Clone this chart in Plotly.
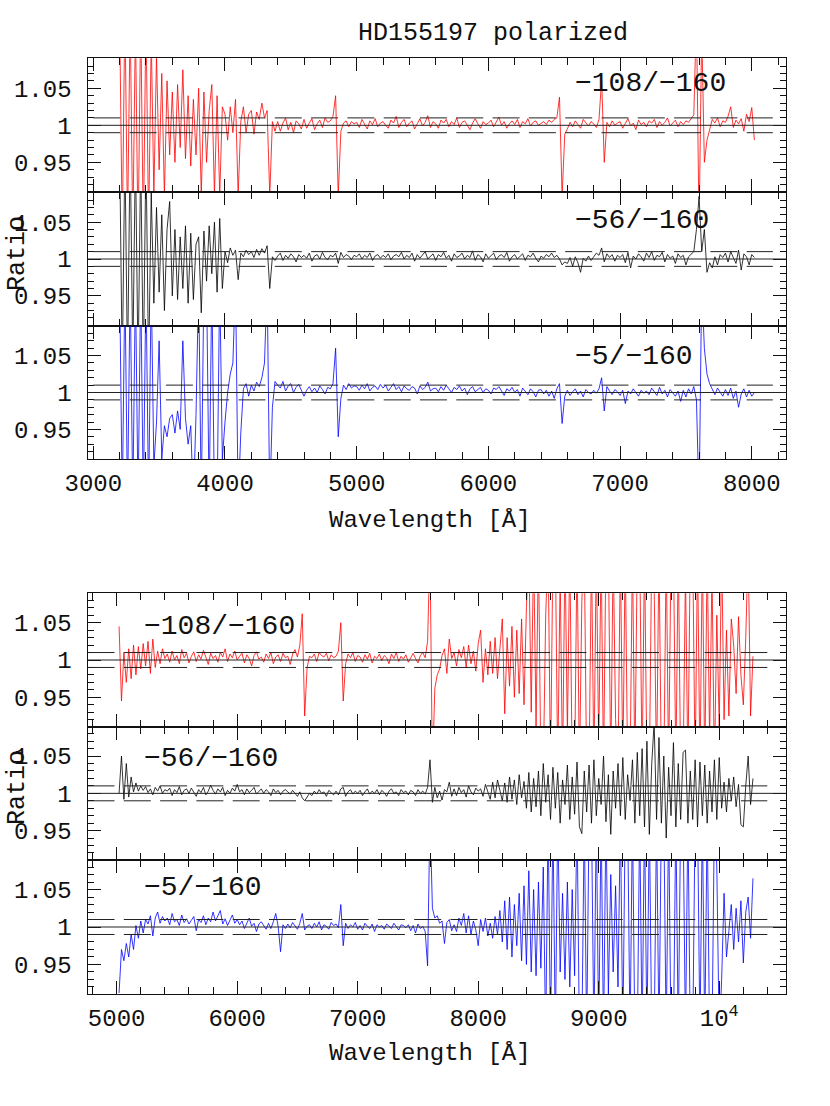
import plotly.graph_objects as go

# wavelength grids [Å]
wave_top = [
    3200, 3220, 3240, 3260, 3280, 3300, 3320, 3340, 3360, 3380,
    3400, 3420, 3440, 3460, 3480, 3500, 3520, 3540, 3560, 3580,
    3600, 3620, 3640, 3660, 3680, 3700, 3720, 3740, 3760, 3780,
    3800, 3820, 3840, 3860, 3880, 3900, 3920, 3940, 3960, 3980,
    4000, 4020, 4040, 4060, 4080, 4100, 4120, 4140, 4160, 4180,
    4200, 4220, 4240, 4260, 4280, 4300, 4320, 4340, 4360, 4380,
    4400, 4420, 4440, 4460, 4480, 4500, 4520, 4540, 4560, 4580,
    4600, 4620, 4640, 4660, 4680, 4700, 4720, 4740, 4760, 4780,
    4800, 4820, 4840, 4860, 4880, 4900, 4920, 4940, 4960, 4980,
    5000, 5020, 5040, 5060, 5080, 5100, 5120, 5140, 5160, 5180,
    5200, 5220, 5240, 5260, 5280, 5300, 5320, 5340, 5360, 5380,
    5400, 5420, 5440, 5460, 5480, 5500, 5520, 5540, 5560, 5580,
    5600, 5620, 5640, 5660, 5680, 5700, 5720, 5740, 5760, 5780,
    5800, 5820, 5840, 5860, 5880, 5900, 5920, 5940, 5960, 5980,
    6000, 6020, 6040, 6060, 6080, 6100, 6120, 6140, 6160, 6180,
    6200, 6220, 6240, 6260, 6280, 6300, 6320, 6340, 6360, 6380,
    6400, 6420, 6440, 6460, 6480, 6500, 6520, 6540, 6560, 6580,
    6600, 6620, 6640, 6660, 6680, 6700, 6720, 6740, 6760, 6780,
    6800, 6820, 6840, 6860, 6880, 6900, 6920, 6940, 6960, 6980,
    7000, 7020, 7040, 7060, 7080, 7100, 7120, 7140, 7160, 7180,
    7200, 7220, 7240, 7260, 7280, 7300, 7320, 7340, 7360, 7380,
    7400, 7420, 7440, 7460, 7480, 7500, 7520, 7540, 7560, 7580,
    7600, 7620, 7640, 7660, 7680, 7700, 7720, 7740, 7760, 7780,
    7800, 7820, 7840, 7860, 7880, 7900, 7920, 7940, 7960, 7980,
    8000, 8020,
]

wave_bot = [
    5020, 5040, 5060, 5080, 5100, 5120, 5140, 5160, 5180, 5200,
    5220, 5240, 5260, 5280, 5300, 5320, 5340, 5360, 5380, 5400,
    5420, 5440, 5460, 5480, 5500, 5520, 5540, 5560, 5580, 5600,
    5620, 5640, 5660, 5680, 5700, 5720, 5740, 5760, 5780, 5800,
    5820, 5840, 5860, 5880, 5900, 5920, 5940, 5960, 5980, 6000,
    6020, 6040, 6060, 6080, 6100, 6120, 6140, 6160, 6180, 6200,
    6220, 6240, 6260, 6280, 6300, 6320, 6340, 6360, 6380, 6400,
    6420, 6440, 6460, 6480, 6500, 6520, 6540, 6560, 6580, 6600,
    6620, 6640, 6660, 6680, 6700, 6720, 6740, 6760, 6780, 6800,
    6820, 6840, 6860, 6880, 6900, 6920, 6940, 6960, 6980, 7000,
    7020, 7040, 7060, 7080, 7100, 7120, 7140, 7160, 7180, 7200,
    7220, 7240, 7260, 7280, 7300, 7320, 7340, 7360, 7380, 7400,
    7420, 7440, 7460, 7480, 7500, 7520, 7540, 7560, 7580, 7600,
    7620, 7640, 7660, 7680, 7700, 7720, 7740, 7760, 7780, 7800,
    7820, 7840, 7860, 7880, 7900, 7920, 7940, 7960, 7980, 8000,
    8020, 8040, 8060, 8080, 8100, 8120, 8140, 8160, 8180, 8200,
    8220, 8240, 8260, 8280, 8300, 8320, 8340, 8360, 8380, 8400,
    8420, 8440, 8460, 8480, 8500, 8520, 8540, 8560, 8580, 8600,
    8620, 8640, 8660, 8680, 8700, 8720, 8740, 8760, 8780, 8800,
    8820, 8840, 8860, 8880, 8900, 8920, 8940, 8960, 8980, 9000,
    9020, 9040, 9060, 9080, 9100, 9120, 9140, 9160, 9180, 9200,
    9220, 9240, 9260, 9280, 9300, 9320, 9340, 9360, 9380, 9400,
    9420, 9440, 9460, 9480, 9500, 9520, 9540, 9560, 9580, 9600,
    9620, 9640, 9660, 9680, 9700, 9720, 9740, 9760, 9780, 9800,
    9820, 9840, 9860, 9880, 9900, 9920, 9940, 9960, 9980, 10000,
    10020, 10040, 10060, 10080, 10100, 10120, 10140, 10160, 10180, 10200,
    10220, 10240, 10260, 10280,
]

# ratio deviations from unity, in units of 0.001
top_red = [
    150, -150, 160, -140, 150, -150, 140, -160, 150, -150,
    150, -140, 120, -95, 95, -60, 70, -95, 60, -40,
    45, -50, 55, -30, 75, -45, 40, -55, 35, -40,
    50, -95, 45, -50, 20, 55, -95, 40, -95, 25,
    15, -20, 25, -10, 35, -95, 5, 25, -10, 15,
    20, -12, 18, 8, 30, 10, 20, -95, 5, -8,
    5, -8, 3, 10, -6, 4, -10, 6, 2, -5,
    8, -4, 3, 9, -6, 2, 7, -3, 10, 4,
    6, 12, 40, -95, -8, 3, 6, -2, 5, 2,
    4, -3, 8, 2, -5, 6, 1, 9, -2, 3,
    5, 0, -4, 7, 3, 12, -3, 4, 8, -2,
    3, 6, -5, 2, 9, -1, 4, 13, -3, 5,
    2, -4, 7, 3, 8, -2, 5, 1, 10, -3,
    4, 6, 0, -6, 3, 9, 2, -4, 5, 1,
    3, 7, -2, 4, 11, 0, 5, -4, 2, 6,
    1, 8, -3, 5, 2, 9, -1, 4, 6, 0,
    3, 5, 1, 7, 4, 8, 10, 38, -95, -12,
    -5, 4, -2, 6, 1, -4, 8, 3, -1, 5,
    2, -3, 8, 62, -50, 4, -2, 6, 0, 3,
    5, -4, 2, 9, -1, 3, -6, 7, 1, 4,
    -2, 6, 3, 8, -3, 5, 0, 4, 10, -1,
    3, 7, -2, 5, 1, 6, 4, 9, 14, 150,
    -140, 130, -50, -20, -5, 8, 3, 10, -2, 6,
    4, 12, 25, -3, 7, 2, 9, -8, 15, 5,
    24, -20,
]

top_black = [
    150, -150, 150, -150, 160, -140, 150, -150, 140, -150,
    150, -150, 90, -60, 70, -45, 60, -70, 40, 78,
    -50, 40, -55, 30, -40, 45, -60, 35, -55, 20,
    30, -73, 38, -30, 45, -20, 50, -45, 55, -40,
    10, -5, 15, 5, 12, -28, 8, 3, 12, 6,
    10, 2, 13, 5, 14, 8, 18, -40, 3, -2,
    4, 8, -2, 5, 1, 7, 3, -4, 6, 2,
    5, 1, 8, -3, 4, 6, 0, 9, 2, -1,
    5, 3, 8, -6, 9, 2, 6, 4, -1, 5,
    3, 7, 0, 5, 2, 8, -2, 4, 6, 1,
    5, 2, 7, -1, 4, 6, 3, 9, 0, 5,
    2, 8, -3, 6, 1, 5, 10, 0, 4, 7,
    -2, 6, 3, 9, 1, 5, -3, 7, 2, 4,
    8, 0, 5, 2, 11, -2, 6, 3, -4, 7,
    1, 5, 8, -1, 4, 6, 2, 9, -3, 3,
    6, 0, 4, 7, -2, 5, 3, 8, 1, -4,
    4, 1, 6, 3, 8, 2, 5, 0, -8, -4,
    -6, 2, -10, 3, -5, -18, 1, -3, 4, -2,
    3, 8, 5, 15, -4, 7, 2, 6, -3, 5,
    2, 6, -5, 9, -12, 4, 0, 7, 3, -3,
    8, 2, 10, -2, 5, 3, 9, -4, 6, 1,
    4, -6, 7, 2, 5, -8, 3, 6, 10, 40,
    85, 10, 40, -18, -5, -12, 3, -8, 6, 2,
    8, -4, 10, 2, -6, 12, -15, 7, 3, -8,
    6, 2,
]

top_blue = [
    150, -150, 150, -150, 150, -150, 150, -150, 150, -150,
    150, -150, 150, -100, -40, 70, -90, -45, -60, -35,
    -30, -55, -25, -50, 70, -35, -70, -45, -150, -30,
    150, -150, 150, 150, -150, 150, -150, -150, 150, -90,
    -40, 0, 25, 40, 150, -150, -55, 5, 12, -5,
    10, 2, 14, 8, 20, 40, 150, -150, -20, 15,
    10, 6, 15, 2, 9, 12, 0, 7, 11, 4,
    -5, 3, 8, 1, 6, 0, 9, 4, -2, 7,
    5, 12, 60, -60, -8, 10, 4, 12, 6, 9,
    8, 3, 10, 5, 12, 2, 7, 9, 4, 11,
    6, 10, 2, 7, 12, 4, 8, 1, 9, 5,
    3, 8, 6, -2, 9, 4, 7, 14, 2, 5,
    6, 1, 8, 3, 10, 5, 0, 7, 4, 9,
    2, 6, -3, 5, 8, 1, 4, 7, 0, 5,
    3, -2, 6, 4, 8, 1, -4, 5, 2, 7,
    0, 4, -5, 6, 2, -3, 5, 1, -6, 3,
    4, -2, 3, -5, 2, -8, 5, 12, -42, -5,
    3, -4, 1, 5, -3, 2, -6, 4, 0, -2,
    3, -1, 5, 20, -25, 8, 2, -3, 4, 1,
    -4, 3, -15, 2, -2, 5, 0, -5, 3, -1,
    2, -3, 6, 1, -4, 7, -2, 3, -6, 4,
    0, -5, 2, -12, 3, -6, 5, -2, 8, -10,
    -150, 150, 60, 25, 12, 5, -3, 6, 1, -5,
    4, -4, 6, -8, 2, -20, -2, 5, -6, 3,
    -5, 0,
]

bot_red = [
    45, -55, 10, -30, 15, -25, 20, -20, 18, -12,
    22, -8, 25, -18, 28, -10, 12, -5, 15, 2,
    8, -3, 12, 0, 6, -5, 14, 3, 9, -4,
    5, 11, -2, 7, 1, 13, 4, -6, 9, 2,
    6, -3, 10, 4, 15, -2, 8, 3, 12, 0,
    5, 9, -4, 7, 2, -8, 6, 11, 1, 4,
    -3, 8, 2, 10, -5, 4, 7, -2, 9, 3,
    5, -6, 8, 14, 4, 20, 62, -75, -10, 5,
    3, 8, -2, 10, 6, 4, 9, -1, 7, 3,
    5, 12, 50, -55, -5, 8, 3, 10, -2, 6,
    4, -3, 7, 1, 9, -4, 5, 2, 8, -1,
    6, 3, -5, 8, 2, 10, -2, 5, 1, 7,
    -3, 4, 9, 2, -4, 6, 10, 3, 25, 150,
    -150, -38, -20, -12, 6, 15, -18, 28, 2, 10,
    -8, 14, 3, 18, -10, 20, -5, 12, -15, 22,
    40, -30, 15, -20, 25, -18, 30, -25, 20, 55,
    -72, 30, -35, 45, -50, 40, -45, 55, -60, 70,
    150, -70, 150, -90, 150, -150, -150, 60, 150, -150,
    150, 150, -150, 120, -150, 150, -100, 150, -150, -150,
    150, -150, 80, 150, -150, -150, 150, -150, 150, -120,
    150, -150, 150, 150, -150, 150, -80, -150, 150, -150,
    150, -150, -150, 150, -150, 150, 150, -150, 150, -150,
    -150, 150, 100, -150, 150, -150, -150, 150, -150, 150,
    150, -150, 150, -150, -150, 120, -150, 150, 150, -150,
    150, -150, 150, -150, 150, -110, 120, -150, 60, -90,
    150, -80, 40, -75, 55, 20, -45, 58, -20, -60,
    30, 150, -75, 5,
]

bot_black = [
    0, 50, -8, 40, -5, 22, 2, 14, 3, 10,
    4, 9, 1, 6, -2, 8, 3, 10, 0, 5,
    3, 7, -3, 5, 1, 9, -2, 4, 6, 0,
    7, 2, -4, 5, 1, 8, -2, 3, 11, 4,
    -1, 6, 2, 8, -3, 4, 0, 7, 3, 12,
    2, 5, -2, 6, 1, 4, 8, -1, 3, 6,
    0, 5, 2, -3, 6, 1, 4, -2, 3, 5,
    2, -1, 4, 0, -4, 2, -6, -10, -5, 0,
    -3, 3, -1, 5, 0, 2, -4, 4, 1, -2,
    3, -2, 6, 8, -4, 2, 5, -1, 3, 0,
    4, -3, 2, 6, -1, 3, 0, 5, -2, 4,
    1, -4, 3, 6, 0, 2, -3, 5, 1, 3,
    -2, 4, 2, -3, 5, 0, 3, -1, 8, 45,
    -12, 8, -6, 3, -9, 5, 2, 15, -4, 6,
    -3, 8, 1, 5, -5, 10, 2, -2, 7, 3,
    6, -4, 12, 2, -8, 15, -6, 18, 3, -10,
    14, -12, 22, -8, 18, -15, 25, -6, 16, -20,
    28, -25, 20, -18, 30, -30, 40, -12, 25, -35,
    35, -20, 28, -40, 18, -15, 38, -35, 22, -28,
    42, -45, -54, 30, -25, 38, -40, 45, -30, 20,
    -15, 50, -38, 25, -55, 30, -20, 40, -30, 48,
    -35, 25, -10, 45, -40, 55, -30, 60, -45, 70,
    -55, 40, 95, -35, 75, -40, 50, -60, 35, -30,
    68, -45, 40, -35, 55, 58, -40, 30, -35, 45,
    -45, 42, -30, 38, -40, 30, -25, 45, -35, 48,
    -20, 15, -25, 20, -10, 22, -18, 12, -42, -45,
    10, 50, -15, 20,
]

bot_blue = [
    -88, -30, -45, -22, -40, -10, -30, 2, -15, 8,
    -8, 10, 4, 15, -12, 12, 20, 5, 14, 8,
    12, 3, 18, 7, 10, 2, 16, 6, 11, 4,
    9, 14, -5, 10, 6, 15, 3, 12, 7, 20,
    8, 14, 22, 4, 11, 2, 9, 16, 5, 10,
    3, 8, -2, 6, 12, 1, 5, -6, 4, 7,
    2, -3, 5, -2, 7, 18, 1, -33, 3, -2,
    4, -1, 6, 2, -3, 5, 18, -4, 1, 3,
    -2, 5, 0, 7, -4, 3, 1, -3, 6, 2,
    4, -1, 30, -25, 5, -2, 3, 0, 6, -3,
    2, -4, 5, 1, -2, 4, -6, 3, 0, 2,
    -3, 4, 1, -2, 5, 0, -4, 3, 2, -1,
    3, -5, 2, -8, 4, -2, 1, -6, -52, 150,
    25, 12, 15, 5, 8, -22, 6, 10, -5, 3,
    -6, 12, 2, 18, -8, 15, -10, 8, -4, -25,
    10, -6, 12, -12, 5, -15, 14, -10, 22, -20,
    35, -30, 40, -40, 30, -25, 45, -45, 55, -50,
    75, -60, 50, -65, 60, -55, 80, -150, 150, -150,
    150, -150, 150, -60, 45, -70, 60, -80, 50, -65,
    150, -150, -150, 150, -150, 150, 150, -150, 150, -150,
    150, -150, 150, -90, 70, -60, 55, -80, 150, -150,
    150, 150, -150, 150, -150, -150, 150, -150, 150, -150,
    150, -150, -150, 150, -150, 150, 150, -150, 150, -150,
    -150, 150, -150, 150, 150, -150, 150, -150, -150, 150,
    150, -150, 150, -150, 150, -150, -150, 150, 80, -150,
    -70, 45, -40, -5, 30, -30, 25, -20, 35, -48,
    20, 40, -15, 65,
]

ratio_labels = ["\u2212108/\u2212160", "\u221256/\u2212160", "\u22125/\u2212160"]
ref_levels = [0.99, 1.0, 1.01]

FONT = "Liberation Mono"
INK = "#111111"
X_DOMAIN = [87.5 / 830, 786 / 830]

groups = {
    "top": dict(
        wave=wave_top,
        series=[top_red, top_black, top_blue],
        xrange=[2956, 8260],
        yrange=[0.9095, 1.0905],
        dash_span=[3000, 8160],
        tickvals=[3000, 4000, 5000, 6000, 7000, 8000],
        ticktext=["3000", "4000", "5000", "6000", "7000", "8000"],
        rows=[(58.3, 192.3), (192.3, 325.7), (325.7, 459.3)],
        label_x=573,
        label_y=[84, 220.7, 356.7],
    ),
    "bot": dict(
        wave=wave_bot,
        series=[bot_red, bot_black, bot_blue],
        xrange=[4758, 10554],
        yrange=[0.9106, 1.0894],
        dash_span=[4758, 10399],
        tickvals=[5000, 6000, 7000, 8000, 9000, 10000],
        ticktext=["5000", "6000", "7000", "8000", "9000", "10<sup>4</sup>"],
        rows=[(593.3, 726.7), (726.7, 860), (860, 994)],
        label_x=141.7,
        label_y=[626.7, 758.3, 887.3],
    ),
}
colors = ["#ff0000", "#000000", "#0000ff"]


def py(y_px):
    return 1 - y_px / 1106


fig = go.Figure()
layout = {}
shapes = []
annotations = []
i = 0
for name, g in groups.items():
    if any(len(s) != len(g["wave"]) for s in g["series"]):
        raise ValueError(f"length mismatch in {name}")
    for k, dev in enumerate(g["series"]):
        i += 1
        xa, ya = f"x{i}", f"y{i}"
        fig.add_trace(
            go.Scatter(
                x=g["wave"],
                y=[1 + d / 1000 for d in dev],
                mode="lines",
                line=dict(color=colors[k], width=0.8),
                xaxis=xa,
                yaxis=ya,
                showlegend=False,
                hoverinfo="skip",
            )
        )
        top_px, bot_px = g["rows"][k]
        layout[f"xaxis{i}"] = dict(
            domain=X_DOMAIN,
            anchor=ya,
            range=g["xrange"],
            automargin=False,
            showline=True,
            linecolor=INK,
            linewidth=1.3,
            mirror="allticks",
            ticks="inside",
            ticklen=13,
            tickwidth=1.2,
            tickcolor=INK,
            tickmode="array",
            tickvals=g["tickvals"],
            ticktext=g["ticktext"],
            showticklabels=(k == 2),
            ticklabelstandoff=2,
            tickfont=dict(family=FONT, size=24, color=INK),
            showgrid=False,
            zeroline=False,
            minor=dict(
                ticks="inside", ticklen=7, tickwidth=1, tickcolor=INK,
                tickmode="linear", tick0=3000, dtick=200, showgrid=False,
            ),
        )
        layout[f"yaxis{i}"] = dict(
            domain=[py(bot_px), py(top_px)],
            anchor=xa,
            range=g["yrange"],
            automargin=False,
            showline=True,
            linecolor=INK,
            linewidth=1.3,
            mirror="allticks",
            ticks="inside",
            ticklen=13,
            tickwidth=1.2,
            tickcolor=INK,
            tickmode="array",
            tickvals=[0.95, 1.0, 1.05],
            ticktext=["0.95", "1", "1.05"],
            ticklabelstandoff=10,
            tickfont=dict(family=FONT, size=24, color=INK),
            showgrid=False,
            zeroline=False,
            minor=dict(
                ticks="inside", ticklen=6, tickwidth=1, tickcolor=INK,
                tickmode="linear", tick0=0.9, dtick=0.01, showgrid=False,
            ),
        )
        for lev in ref_levels:
            if lev == 1.0:
                x0, x1, dash = g["xrange"][0], g["xrange"][1], "solid"
            else:
                x0, x1, dash = g["dash_span"][0], g["dash_span"][1], "27px,9.3px"
            shapes.append(
                dict(
                    type="line", xref=xa, yref=ya, x0=x0, x1=x1, y0=lev, y1=lev,
                    line=dict(color="#222222", width=1, dash=dash),
                )
            )
        annotations.append(
            dict(
                text=ratio_labels[k], xref="paper", yref="paper",
                x=g["label_x"] / 830, y=py(g["label_y"][k]),
                xanchor="left", yanchor="middle", showarrow=False,
                font=dict(family=FONT, size=28, color=INK),
            )
        )

annotations += [
    dict(text="HD155197 polarized", x=493 / 830, y=py(33),
         font=dict(family=FONT, size=25, color=INK)),
    dict(text="Wavelength [Å]", x=430 / 830, y=py(520),
         font=dict(family=FONT, size=24, color=INK)),
    dict(text="Wavelength [Å]", x=430 / 830, y=py(1053),
         font=dict(family=FONT, size=24, color=INK)),
    dict(text="Ratio", x=17 / 830, y=py(254), textangle=-90,
         font=dict(family=FONT, size=25, color=INK)),
    dict(text="Ratio", x=17 / 830, y=py(788), textangle=-90,
         font=dict(family=FONT, size=25, color=INK)),
]
for a in annotations[-5:]:
    a.update(xref="paper", yref="paper", xanchor="center", yanchor="middle", showarrow=False)

fig.update_layout(
    **layout,
    shapes=shapes,
    annotations=annotations,
    width=830,
    height=1106,
    autosize=False,
    margin=dict(l=0, r=0, t=0, b=0, autoexpand=False),
    paper_bgcolor="white",
    plot_bgcolor="white",
    showlegend=False,
)

fig.write_html(
    "out.html",
    config={"displayModeBar": False},
    post_script="document.body.style.margin='0';",
)
